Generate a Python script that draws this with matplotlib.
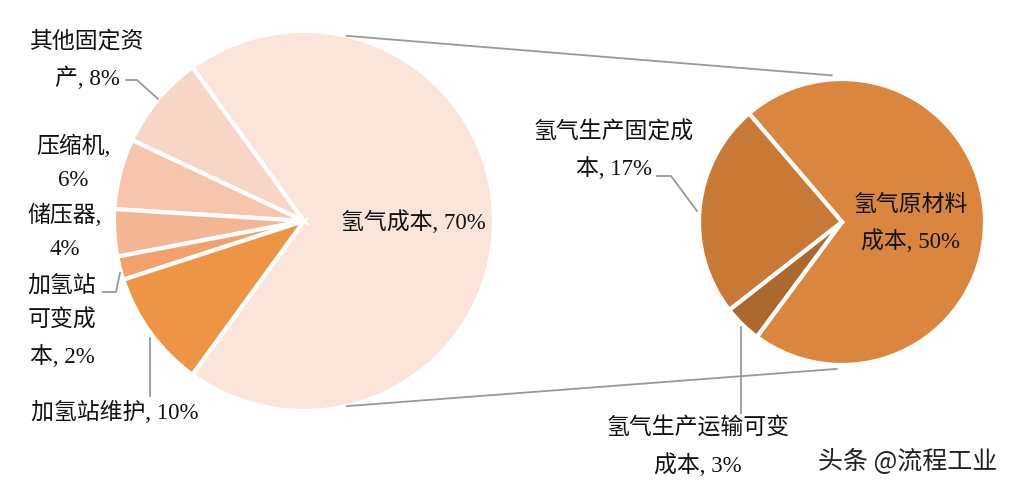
import matplotlib.pyplot as plt
import numpy as np

# left pie: station cost breakdown
left_labels = ['氢气成本, 70%', '其他固定资\n产, 8%', '压缩机,\n6%', '储压器,\n4%',
               '加氢站\n可变成\n本, 2%', '加氢站维护, 10%']
left_vals = [70, 8, 6, 4, 2, 10]
left_colors = ['#FBE4D9', '#F8D5C4', '#F6C5AC', '#F4B595', '#F2A16A', '#EE9445']

# right pie: hydrogen cost breakdown
right_labels = ['氢气原材料\n成本, 50%', '氢气生产固定成\n本, 17%', '氢气生产运输可变\n成本, 3%']
right_vals = [50, 17, 3]
right_colors = ['#DA863E', '#C87936', '#AC682D']

H = 491
serif = ['Liberation Serif', 'Noto Sans CJK SC']
fs = 16.5

fig = plt.figure(figsize=(10.15, 4.91), dpi=100)
ax = fig.add_axes([0, 0, 1, 1])

lc, lr = (304, H - 221), 190
rc, rr = (842, H - 222), 143

wp = dict(edgecolor='white', linewidth=3)
ax.pie(left_vals, colors=left_colors, startangle=180 + 54, center=lc, radius=lr,
       wedgeprops=wp)
ax.pie(right_vals, colors=right_colors, startangle=180 + 180 * 20 / 70 + 2, center=rc,
       radius=rr, wedgeprops=wp)

ax.set_xlim(0, 1015)
ax.set_ylim(0, H)
ax.set_aspect('equal')
ax.axis('off')


def on_circle(c, r, deg):
    a = np.deg2rad(deg)
    return c[0] + r * np.cos(a), c[1] + r * np.sin(a)


# connector lines between the two pies
for a1, a2 in [(77, 94), (-77, -92)]:
    x1, y1 = on_circle(lc, lr, a1)
    x2, y2 = on_circle(rc, rr + 4, a2)
    ax.plot([x1, x2], [y1, y2], color='#999999', lw=1.3)

# labels (pixel positions, y from top)
def label(txt, x, y, **kw):
    ax.text(x, H - y, txt, ha='center', va='center', fontsize=fs, family=serif,
            linespacing=1.75, color='#111111', **kw)

label(left_labels[0], 413, 222)
label(left_labels[1], 87, 60)
label(left_labels[2], 73, 163)
label(left_labels[3], 65, 232)
label(left_labels[4], 62, 322)
label(left_labels[5], 115, 412)
label(right_labels[0], 911, 224)
label(right_labels[1], 614, 151)
label(right_labels[2], 698, 447)

# leader lines
leaders = [
    [(126, 80), (137, 80), (158, 99)],
    [(103, 292), (116, 292), (120, 273)],
    [(150, 396), (150, 338)],
    [(657, 176), (671, 176), (697, 211)],
    [(741, 413), (741, 327)],
]
for pts in leaders:
    xs = [p[0] for p in pts]
    ys = [H - p[1] for p in pts]
    ax.plot(xs, ys, color='#999999', lw=1.3)

ax.text(908, H - 462, '头条 @流程工业', ha='center', va='center', fontsize=18,
        family=['Noto Sans CJK SC', 'DejaVu Sans'], color='#222222')

fig.savefig('out.png', dpi=100)
